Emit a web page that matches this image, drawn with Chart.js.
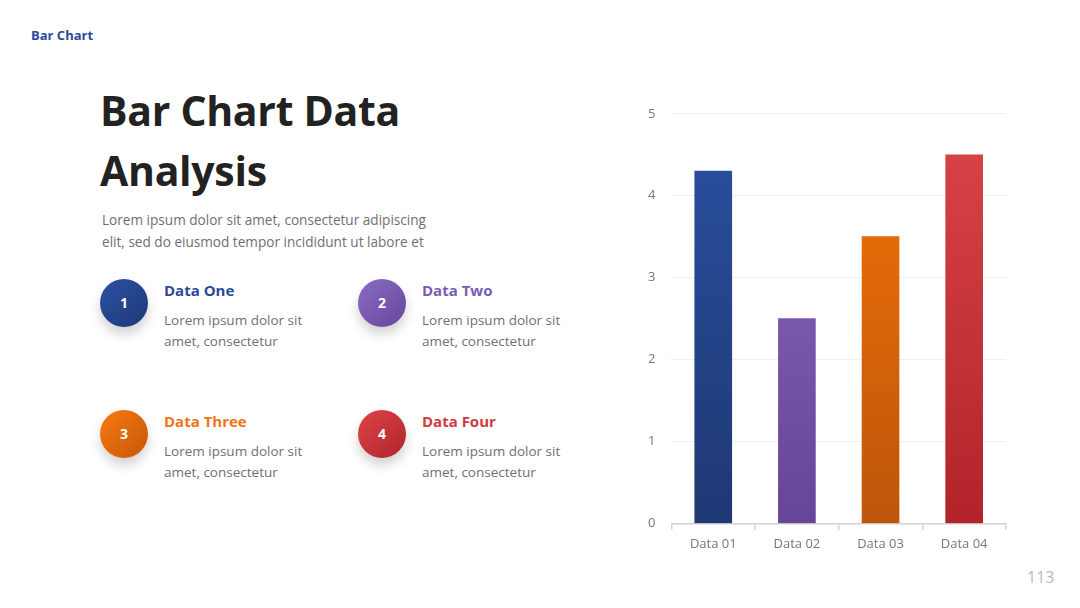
<!DOCTYPE html>
<html>
<head>
<meta charset="utf-8">
<script src="https://cdn.jsdelivr.net/npm/chart.js@4/dist/chart.umd.min.js"></script>
<style>
  html, body { margin: 0; padding: 0; background: #fff; }
  body { width: 1080px; height: 608px; position: relative; overflow: hidden; font-family: "Open Sans", sans-serif; }
  .tag { position: absolute; left: 31px; top: 26px; font-size: 13px; font-weight: 700; color: #2b4a9a; }
  .title { position: absolute; left: 100px; top: 80px; font-size: 41px; font-weight: 700; color: #222; line-height: 60px; letter-spacing: -0.3px; }
  .lead { position: absolute; left: 102px; top: 209px; font-size: 13.6px; color: #707070; line-height: 22px; width: 335px; }
  .item { position: absolute; width: 240px; height: 90px; }
  .circle { position: absolute; left: 0; top: 0; width: 48px; height: 48px; border-radius: 50%; color: #fff; font-weight: 700; font-size: 14px; text-align: center; line-height: 48px; box-shadow: 0 7px 12px rgba(0,0,0,0.18); }
  .h { position: absolute; left: 64px; top: 1px; font-size: 15px; font-weight: 700; white-space: nowrap; }
  .d { position: absolute; left: 64px; top: 31px; font-size: 13.5px; color: #707070; line-height: 21px; width: 175px; }
  .page { position: absolute; left: 1027px; top: 566px; font-size: 16px; color: #bbb; }
  #wrap { position: absolute; left: 620px; top: 90px; width: 398px; height: 469px; }
</style>
</head>
<body>
<div class="tag">Bar Chart</div>
<div class="title">Bar Chart Data<br>Analysis</div>
<div class="lead">Lorem ipsum dolor sit amet, consectetur adipiscing elit, sed do eiusmod tempor incididunt ut labore et</div>

<div class="item" style="left:100px; top:279px;">
  <div class="circle" style="background:linear-gradient(135deg,#2c52a2,#1d3877);">1</div>
  <div class="h" style="color:#2b4a9a;">Data One</div>
  <div class="d">Lorem ipsum dolor sit amet, consectetur</div>
</div>
<div class="item" style="left:358px; top:279px;">
  <div class="circle" style="background:linear-gradient(135deg,#8b6cc3,#67479d);">2</div>
  <div class="h" style="color:#7b5cb5;">Data Two</div>
  <div class="d">Lorem ipsum dolor sit amet, consectetur</div>
</div>
<div class="item" style="left:100px; top:410px;">
  <div class="circle" style="background:linear-gradient(135deg,#f77a0e,#c5570b);">3</div>
  <div class="h" style="color:#f07417;">Data Three</div>
  <div class="d">Lorem ipsum dolor sit amet, consectetur</div>
</div>
<div class="item" style="left:358px; top:410px;">
  <div class="circle" style="background:linear-gradient(135deg,#de4448,#ae2429);">4</div>
  <div class="h" style="color:#d13a3e;">Data Four</div>
  <div class="d">Lorem ipsum dolor sit amet, consectetur</div>
</div>

<div class="page">113</div>
<div id="wrap"><canvas id="c"></canvas></div>

<script>
const categories = ["Data 01", "Data 02", "Data 03", "Data 04"];
const values = [4.3, 2.5, 3.5, 4.5];
const yTicks = [0, 1, 2, 3, 4, 5];
const topColors = ["#2a50a0", "#8a6bbd", "#f57308", "#da4547"];
const bottomColors = ["#1e3873", "#654599", "#bd560b", "#b1242a"];

function barFill(ctx) {
  const chart = ctx.chart;
  const area = chart.chartArea;
  if (!area) return topColors[ctx.dataIndex];
  const g = chart.ctx.createLinearGradient(0, area.top, 0, area.bottom);
  g.addColorStop(0, topColors[ctx.dataIndex]);
  g.addColorStop(1, bottomColors[ctx.dataIndex]);
  return g;
}

new Chart(document.getElementById("c"), {
  type: "bar",
  data: {
    labels: categories,
    datasets: [{ data: values, backgroundColor: barFill, borderWidth: 0, barThickness: 37 }]
  },
  options: {
    responsive: true,
    maintainAspectRatio: false,
    animation: false,
    layout: { padding: { left: 12, right: 12, top: 7, bottom: 0 } },
    plugins: { legend: { display: false }, tooltip: { enabled: false } },
    scales: {
      x: {
        offset: true,
        grid: { display: true, drawOnChartArea: false, drawTicks: true, tickLength: 6, color: "#d0d0d0", lineWidth: 1.5 },
        border: { display: true, color: "#d0d0d0", width: 1.5 },
        ticks: { color: "#777", font: { family: "Open Sans", size: 13 }, padding: 7 }
      },
      y: {
        min: 0, max: 5,
        afterBuildTicks: (axis) => { axis.ticks = yTicks.map(v => ({ value: v })); },
        grid: { color: "#efefef", lineWidth: 1, drawTicks: false },
        border: { display: false },
        ticks: { color: "#777", font: { family: "Open Sans", size: 13 }, padding: 16 }
      }
    }
  }
});
</script>
</body>
</html>
